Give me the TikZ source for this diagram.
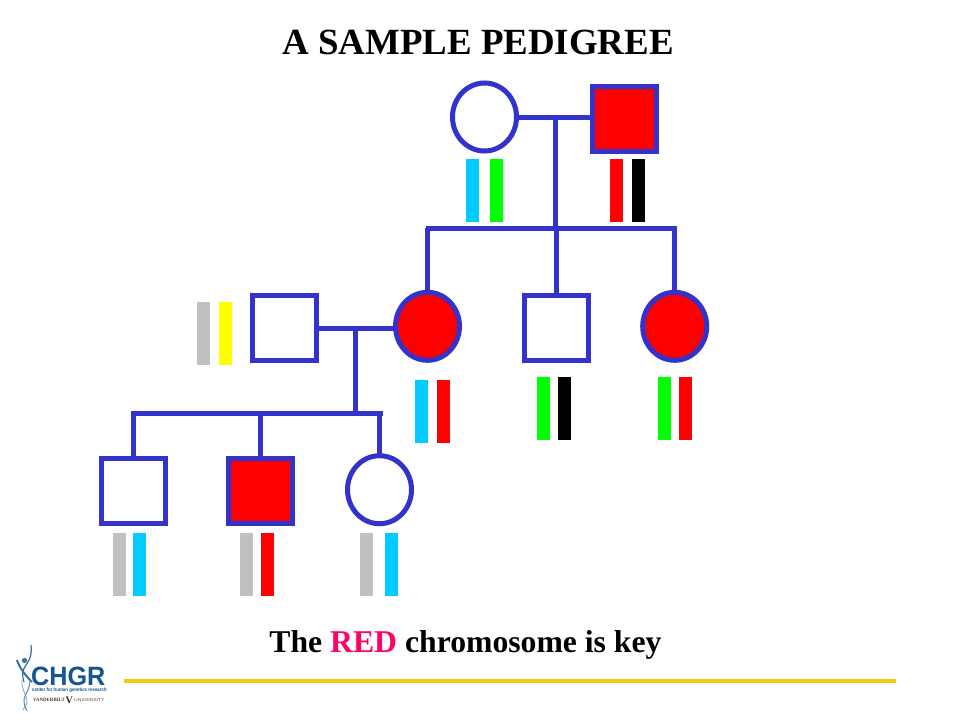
\documentclass[tikz,border=0pt]{standalone}
\usepackage{fontspec}
\setmainfont{Liberation Serif}
\newfontfamily\logosans{Liberation Sans}
\usetikzlibrary{shapes.geometric}
\definecolor{pedblue}{HTML}{3333CC}
\definecolor{chrcyan}{HTML}{00CCFF}
\definecolor{chrgreen}{HTML}{00FF00}
\definecolor{chrred}{HTML}{FF0000}
\definecolor{chrgrey}{HTML}{C0C0C0}
\definecolor{chryellow}{HTML}{FFFF00}
\definecolor{keypink}{HTML}{FF0066}
\definecolor{rulegold}{HTML}{F5C90F}
\definecolor{logoblue}{HTML}{14568F}
\tikzset{
  male/.style={rectangle,draw=pedblue,line width=5pt,minimum width=64pt,minimum height=65pt,inner sep=0pt,outer sep=0pt},
  female/.style={ellipse,draw=pedblue,line width=5pt,minimum width=64pt,minimum height=68pt,inner sep=0pt,outer sep=0pt},
  affected/.style={fill=chrred},
  link/.style={draw=pedblue,line width=5pt},
  chrom/.style={rectangle,minimum width=13pt,minimum height=63pt,inner sep=0pt,outer sep=0pt},
  headline/.style={font=\fontsize{36.9}{40}\bfseries\selectfont,anchor=base,inner sep=0pt},
  keyline/.style={font=\fontsize{31.7}{36}\bfseries\selectfont,anchor=base,inner sep=0pt},
}
\begin{document}
\begin{tikzpicture}[x=1pt,y=-1pt]
\useasboundingbox (0,0) rectangle (960,720);
\fill[white] (0,0) rectangle (960,720);
\node[headline] (title) at (478,54.5) {A SAMPLE PEDIGREE};
\node[keyline] (caption) at (465.5,652.8) {The \textcolor{keypink}{RED} chromosome is key};

% individuals
\node[female] (gm) at (484.5,117) {};
\node[male,affected] (gf) at (624.5,119) {};
\node[male] (sp) at (284.5,328) {};
\node[female,affected] (d1) at (427.5,326.3) {};
\node[male] (so) at (556.5,328) {};
\node[female,affected] (d2) at (674.7,326.3) {};
\node[male] (k1) at (133.3,491) {};
\node[male,affected] (k2) at (260.5,491) {};
\node[female] (k3) at (379.5,489.7) {};

% connectors
\coordinate (sibA) at (425.5,228.3);
\coordinate (sibB) at (677,228.3);
\coordinate (sibC) at (130.5,413.3);
\coordinate (sibD) at (383,413.3);
\coordinate (j1) at (555.3,117);
\coordinate (j2) at (355.3,328.3);
\draw[link] (gm.east) -- (gf.west |- gm.east);
\draw[link] (j1) -- (j1 |- sibA);
\draw[link] (sibA) -- (sibB);
\draw[link] (d1.north) -- (d1.north |- sibA);
\draw[link] (so.north) -- (so.north |- sibA);
\draw[link] (d2.north) -- (d2.north |- sibA);
\draw[link] (sp.east |- j2) -- (d1.west |- j2);
\draw[link] (j2) -- (j2 |- sibC);
\draw[link] (sibC) -- (sibD);
\draw[link] (k1.north) -- (k1.north |- sibC);
\draw[link] (k2.north) -- (k2.north |- sibC);
\draw[link] (k3.north) -- (k3.north |- sibC);

% chromosomes
\node[chrom,fill=chrcyan] (c1) at (472.5,190.7) {};
\node[chrom,fill=chrgreen] (c2) at (496.5,190.7) {};
\node[chrom,fill=chrred] (c3) at (616.5,190.7) {};
\node[chrom,fill=black] (c4) at (638.5,190.7) {};
\node[chrom,fill=chrgrey] (c5) at (203.5,333) {};
\node[chrom,fill=chryellow] (c6) at (225.5,333) {};
\node[chrom,fill=chrcyan] (c7) at (421.5,411) {};
\node[chrom,fill=chrred] (c8) at (443.5,411) {};
\node[chrom,fill=chrgreen] (c9) at (543.5,408.8) {};
\node[chrom,fill=black] (c10) at (564.5,408.8) {};
\node[chrom,fill=chrgreen] (c11) at (664.5,408.8) {};
\node[chrom,fill=chrred] (c12) at (685.5,408.8) {};
\node[chrom,fill=chrgrey] (c13) at (119.5,564.8) {};
\node[chrom,fill=chrcyan] (c14) at (139.5,564.8) {};
\node[chrom,fill=chrgrey] (c15) at (246.5,564.8) {};
\node[chrom,fill=chrred] (c16) at (267.5,564.8) {};
\node[chrom,fill=chrgrey] (c17) at (366.5,564.8) {};
\node[chrom,fill=chrcyan] (c18) at (391.5,564.8) {};

% rule
\coordinate (ruleL) at (124,681);
\coordinate (ruleR) at (896,681);
\draw[rulegold,line width=4pt] (ruleL) -- (ruleR);

% logo
\node[font=\logosans\fontsize{26.5}{26}\bfseries\selectfont,text=logoblue,anchor=base west,inner sep=0pt,xscale=0.95] (chgr) at (31,685) {CHGR};
\node[font=\logosans\fontsize{5}{6}\bfseries\selectfont,text=logoblue,anchor=base west,inner sep=0pt,xscale=0.88] (cfh) at (32,691.5) {center for human genetics research};
\node[font=\fontsize{4.9}{5}\bfseries\selectfont,text=black!75,anchor=base west,inner sep=0pt] (van) at (33,701) {VANDERBILT};
\node[font=\fontsize{10}{10}\bfseries\selectfont,text=black!85,anchor=base west,inner sep=0pt] (vee) at (65.5,703) {V};
\node[font=\logosans\fontsize{4.2}{5}\selectfont,text=black!65,anchor=base west,inner sep=0pt,xscale=1.2] (uni) at (74,701) {UNIVERSITY};
% logo figure
\draw[logoblue!85,line width=1.2pt] (31,645) .. controls (32,654) and (30,660) .. (26,665) .. controls (22,670) and (22,676) .. (24,682);
\draw[logoblue!85,line width=2pt] (17,660) .. controls (19,667) and (25,675) .. (32,682);
\fill[logoblue!85] (24.5,660.5) circle (2.6pt);
\draw[logoblue!70,line width=1pt] (30,680) .. controls (30,690) and (24,695) .. (24,700) .. controls (24,704) and (25,707) .. (27,711);
\draw[logoblue!55,line width=0.8pt] (22,680) .. controls (21,690) and (28,696) .. (27,703) -- (23,710);
\end{tikzpicture}
\end{document}
